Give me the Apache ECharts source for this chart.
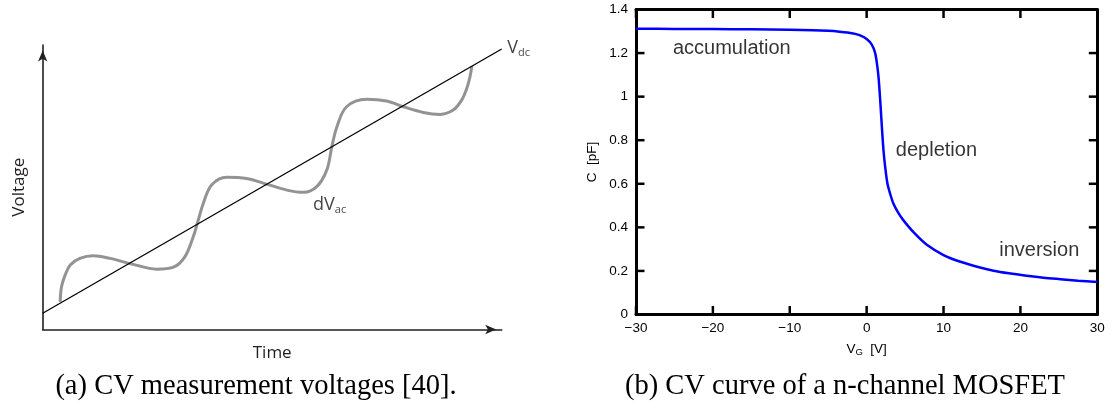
<!DOCTYPE html>
<html><head><meta charset="utf-8">
<script src="https://cdn.jsdelivr.net/npm/echarts@6/dist/echarts.min.js"></script>
<style>html,body{margin:0;padding:0;background:#fff}#c{width:1114px;height:416px}</style>
</head><body><div id="c"></div>
<script>
// ---------- Panel (a): schematic, arbitrary units 0..100 ----------
const dcTime = [0, 100];
const dcVolt = [5.7, 98.6];
const acTime = [3.8, 4.1, 4.9, 6.0, 8.1, 11.0, 14.7, 19.7, 24.8, 28.5, 31.0, 32.8, 33.9, 35.0, 36.8, 40.1, 44.4, 48.8, 53.2, 56.8, 59.7, 61.9, 63.0, 64.1, 66.2, 70.6, 74.9, 78.6, 82.9, 86.6, 89.5, 91.3, 92.4, 93.1, 93.5];
const acVolt = [9.7, 15.0, 19.2, 22.7, 25.0, 25.9, 25.0, 22.9, 21.2, 21.9, 25.6, 32.6, 38.5, 44.4, 50.8, 53.5, 53.1, 51.1, 49.0, 48.2, 50.2, 56.1, 64.3, 71.3, 78.3, 80.9, 80.3, 78.3, 76.3, 75.6, 77.2, 80.7, 84.8, 88.9, 92.6];
const schemRange = [0, 100];

// ---------- Panel (b): CV curve ----------
const gateVoltage = [-30, -25, -20, -15, -10, -7, -5, -3.5, -2.5, -1.5, -0.85, 0, 0.67, 1.1, 1.33, 1.54, 1.76, 1.98, 2.19, 2.41, 2.71, 3.06, 3.49, 4.14, 4.79, 6.09, 7.83, 10, 12.2, 14.5, 16.5, 18.5, 20.8, 23, 25.2, 27.5, 30];
const capacitance = [1.312, 1.311, 1.310, 1.309, 1.307, 1.305, 1.302, 1.298, 1.294, 1.288, 1.281, 1.265, 1.239, 1.201, 1.154, 1.092, 0.985, 0.861, 0.754, 0.677, 0.600, 0.554, 0.508, 0.465, 0.432, 0.378, 0.320, 0.273, 0.242, 0.218, 0.201, 0.189, 0.178, 0.169, 0.162, 0.155, 0.149];
const xTickLabels = [-30, -20, -10, 0, 10, 20, 30];
const yTickLabels = [0, 0.2, 0.4, 0.6, 0.8, 1, 1.2, 1.4];
const regionNames = ['accumulation', 'depletion', 'inversion'];
const regionPos = [[-25.2, 1.22], [3.8, 0.755], [17.25, 0.293]];
const captions = ['(a) CV measurement voltages [40].', '(b) CV curve of a n-channel MOSFET'];

const zip = (a, b) => a.map((v, i) => [v, b[i]]);
const sansA = '"Open Sans", sans-serif';
const sansB = '"Liberation Sans", Arial, sans-serif';

const chart = echarts.init(document.getElementById('c'), null, {renderer: 'canvas'});
const frameLine = () => ({show: true, onZero: false, lineStyle: {color: '#000', width: 3}});
const fmtMinus = v => String(v).replace('-', '\u2212');
const xMin = xTickLabels[0], xMax = xTickLabels[xTickLabels.length - 1], xStep = xTickLabels[1] - xTickLabels[0];
const yMin = yTickLabels[0], yMax = yTickLabels[yTickLabels.length - 1], yStep = 0.2;
const TICK = 8.5;

// inward tick marks on all four frame sides, placed through the axes' own scales
function tickLine(x1, y1, x2, y2) {
  return {type: 'line', shape: {x1: x1, y1: y1, x2: x2, y2: y2},
          style: {stroke: '#000', lineWidth: 2.5, fill: null}};
}
function renderXTicks(params, api) {
  const v = api.value(0);
  const b = api.coord([v, yMin]);
  const t = api.coord([v, yMax]);
  return {type: 'group', children: [
    tickLine(b[0], b[1], b[0], b[1] - TICK),
    tickLine(t[0], t[1], t[0], t[1] + TICK)
  ]};
}
function renderYTicks(params, api) {
  const v = api.value(1);
  const l = api.coord([xMin, v]);
  const r = api.coord([xMax, v]);
  return {type: 'group', children: [
    tickLine(l[0], l[1], l[0] + TICK, l[1]),
    tickLine(r[0], r[1], r[0] - TICK, r[1])
  ]};
}

chart.setOption({
  animation: false,
  backgroundColor: '#fff',
  grid: [
    {left: 42.7, top: 45, width: 459, height: 284.5},
    {left: 636, top: 9.5, width: 461.3, height: 305}
  ],
  xAxis: [
    {gridIndex: 0, type: 'value', min: schemRange[0], max: schemRange[1],
     axisLine: {show: true, symbol: ['none', 'arrow'], symbolSize: [7, 11], symbolOffset: [0, -5.5],
       lineStyle: {color: '#231f20', width: 1.6}},
     axisTick: {show: false}, axisLabel: {show: false}, splitLine: {show: false},
     name: 'Time', nameLocation: 'middle', nameGap: 15,
     nameTextStyle: {fontFamily: sansA, fontSize: 17, color: '#231f20'}},
    {gridIndex: 1, type: 'value', position: 'bottom', min: xMin, max: xMax, interval: xStep,
     axisLine: frameLine(), axisTick: {show: false}, splitLine: {show: false},
     axisLabel: {show: true, margin: 7, fontFamily: sansB, fontSize: 13.5, color: '#000', formatter: fmtMinus},
     name: '{v|V}{s|G}{v|  [V]}', nameLocation: 'middle', nameGap: 27,
     nameTextStyle: {rich: {v: {fontFamily: sansB, fontSize: 13.5, color: '#000', lineHeight: 16},
       s: {fontFamily: sansB, fontSize: 9.5, color: '#000', lineHeight: 2, verticalAlign: 'bottom'}}}},
    {gridIndex: 1, type: 'value', position: 'top', min: xMin, max: xMax, interval: xStep,
     axisLine: frameLine(), axisTick: {show: false}, axisLabel: {show: false}, splitLine: {show: false}}
  ],
  yAxis: [
    {gridIndex: 0, type: 'value', min: schemRange[0], max: schemRange[1],
     axisLine: {show: true, symbol: ['none', 'arrow'], symbolSize: [7, 11], symbolOffset: [0, -5.5],
       lineStyle: {color: '#231f20', width: 1.6}},
     axisTick: {show: false}, axisLabel: {show: false}, splitLine: {show: false},
     name: 'Voltage', nameLocation: 'middle', nameGap: 15, nameRotate: 90,
     nameTextStyle: {fontFamily: sansA, fontSize: 17, color: '#231f20'}},
    {gridIndex: 1, type: 'value', position: 'left', min: yMin, max: yMax, interval: yStep,
     axisLine: frameLine(), axisTick: {show: false}, splitLine: {show: false},
     axisLabel: {show: true, margin: 8, fontFamily: sansB, fontSize: 13.5, color: '#000',
       formatter: v => String(Math.round(v * 10) / 10)},
     name: 'C  [pF]', nameLocation: 'middle', nameGap: 37, nameRotate: 90,
     nameTextStyle: {fontFamily: sansB, fontSize: 13.5, color: '#000'}},
    {gridIndex: 1, type: 'value', position: 'right', min: yMin, max: yMax, interval: yStep,
     axisLine: frameLine(), axisTick: {show: false}, axisLabel: {show: false}, splitLine: {show: false}}
  ],
  series: [
    {type: 'line', xAxisIndex: 0, yAxisIndex: 0, data: zip(dcTime, dcVolt), showSymbol: false,
     lineStyle: {color: '#000', width: 1.3}, z: 3},
    {type: 'line', xAxisIndex: 0, yAxisIndex: 0, data: zip(acTime, acVolt), showSymbol: false,
     smooth: 0.35, lineStyle: {color: '#939393', width: 3}, z: 2},
    {type: 'scatter', xAxisIndex: 0, yAxisIndex: 0, symbolSize: 0, clip: false, silent: true,
     data: [[101.2, 98.9, 'dc'], [58.9, 43.8, 'ac']],
     label: {show: true, position: 'inside', align: 'left', verticalAlign: 'middle', color: '#111',
       formatter: p => p.data[2] === 'dc' ? '{v|V}{s|dc}' : '{v|dV}{s|ac}',
       rich: {v: {fontFamily: sansA, fontSize: 18, color: '#111', lineHeight: 20},
              s: {fontFamily: sansA, fontSize: 11, color: '#111', lineHeight: 2, verticalAlign: 'bottom'}}}},
    {type: 'custom', coordinateSystem: 'cartesian2d', xAxisIndex: 1, yAxisIndex: 1, silent: true, clip: false, z: 5,
     data: xTickLabels.map(v => [v, yMin]), renderItem: renderXTicks},
    {type: 'custom', coordinateSystem: 'cartesian2d', xAxisIndex: 1, yAxisIndex: 1, silent: true, clip: false, z: 5,
     data: yTickLabels.map(v => [xMin, v]), renderItem: renderYTicks},
    {type: 'line', xAxisIndex: 1, yAxisIndex: 1, data: zip(gateVoltage, capacitance), showSymbol: false,
     smooth: 0.3, lineStyle: {color: '#0000ff', width: 2.5}, z: 3},
    {type: 'scatter', xAxisIndex: 1, yAxisIndex: 1, symbolSize: 0, clip: false, silent: true,
     data: regionPos.map((p, i) => [p[0], p[1], regionNames[i]]),
     label: {show: true, position: 'inside', align: 'left', verticalAlign: 'middle',
       fontFamily: sansB, fontSize: 20, color: '#000', formatter: p => p.data[2]}}
  ],
  graphic: [
    {type: 'text', x: 256, y: 387, style: {text: captions[0], font: '28.5px "Liberation Serif", serif',
      fill: '#000', align: 'center', verticalAlign: 'middle'}},
    {type: 'text', x: 845, y: 387, style: {text: captions[1], font: '28.5px "Liberation Serif", serif',
      fill: '#000', align: 'center', verticalAlign: 'middle'}}
  ]
});
</script></body></html>
